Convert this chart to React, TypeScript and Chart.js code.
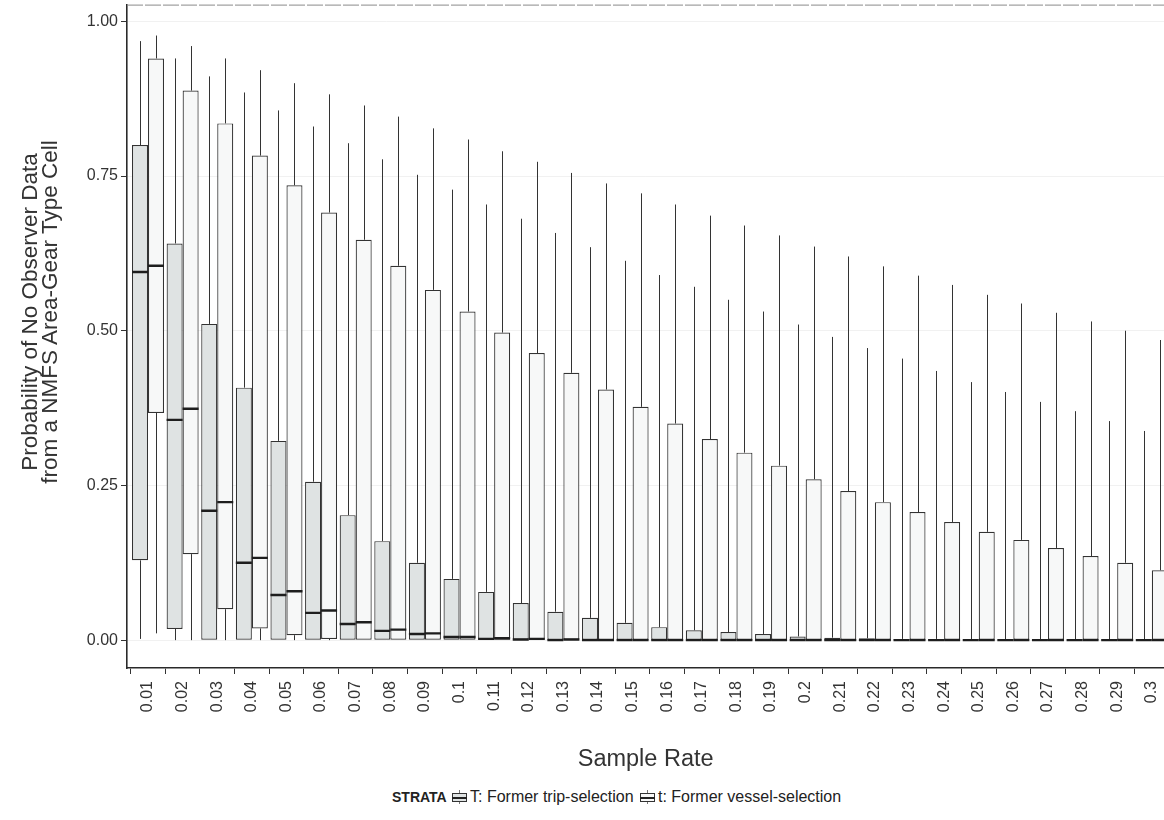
import React, { useEffect, useRef } from 'react';
import { Chart, registerables } from 'chart.js';
Chart.register(...registerables);

const FONT = "'Liberation Sans', Arial, Helvetica, sans-serif";

const rates = ['0.01','0.02','0.03','0.04','0.05','0.06','0.07','0.08','0.09','0.1','0.11','0.12','0.13','0.14','0.15','0.16','0.17','0.18','0.19','0.2','0.21','0.22','0.23','0.24','0.25','0.26','0.27','0.28','0.29','0.3'];
const yTicks = [0, 0.25, 0.5, 0.75, 1];

// T: Former trip-selection
const whiskerHighT = [0.968,0.94,0.911,0.885,0.856,0.83,0.803,0.777,0.752,0.728,0.704,0.681,0.658,0.635,0.613,0.59,0.571,0.55,0.531,0.51,0.49,0.472,0.455,0.435,0.417,0.401,0.385,0.37,0.354,0.338];
const boxHighT = [0.80,0.641,0.511,0.408,0.322,0.256,0.202,0.16,0.125,0.099,0.078,0.06,0.046,0.036,0.028,0.021,0.016,0.013,0.01,0.006,0.004,0.003,0.002,0.002,0.001,0.001,0.001,0.001,0.001,0.001];
const medianT = [0.595,0.356,0.209,0.125,0.073,0.044,0.026,0.015,0.01,0.005,0.002,0.001,0,0,0,0,0,0,0,0,0,0,0,0,0,0,0,0,0,0];
const boxLowT = [0.129,0.018,0,0,0,0,0,0,0,0,0,0,0,0,0,0,0,0,0,0,0,0,0,0,0,0,0,0,0,0];
const whiskerLowT = [0.002,0,0,0,0,0,0,0,0,0,0,0,0,0,0,0,0,0,0,0,0,0,0,0,0,0,0,0,0,0];

// t: Former vessel-selection
const whiskerHighV = [0.977,0.96,0.94,0.921,0.9,0.882,0.864,0.846,0.827,0.809,0.79,0.773,0.755,0.738,0.722,0.704,0.686,0.67,0.654,0.636,0.62,0.604,0.589,0.574,0.558,0.544,0.529,0.515,0.5,0.485];
const boxHighV = [0.94,0.888,0.835,0.783,0.735,0.691,0.647,0.605,0.566,0.531,0.497,0.464,0.432,0.405,0.377,0.35,0.325,0.303,0.282,0.26,0.241,0.223,0.207,0.191,0.175,0.162,0.149,0.136,0.125,0.113];
const medianV = [0.605,0.374,0.223,0.133,0.079,0.048,0.029,0.017,0.011,0.005,0.003,0.002,0.001,0,0,0,0,0,0,0,0,0,0,0,0,0,0,0,0,0];
const boxLowV = [0.367,0.139,0.05,0.019,0.008,0.002,0,0,0,0,0,0,0,0,0,0,0,0,0,0,0,0,0,0,0,0,0,0,0,0];
const whiskerLowV = [0.011,0,0,0,0,0,0,0,0,0,0,0,0,0,0,0,0,0,0,0,0,0,0,0,0,0,0,0,0,0];

const seriesLabels = ['T: Former trip-selection', 't: Former vessel-selection'];
const fills = ['#dfe3e3', '#f7f8f8'];
const yTitle = ['Probability of No Observer Data', 'from a NMFS Area-Gear Type Cell'];
const legendTitle = 'STRATA';

const W = 1164;
const CANVAS_W = 1178;   // Chart.js keeps ~14px right inset for the last tick label; the page crops it
const AREA_TOP = 5;      // page y of plot top
const TOP_INSET = 13;    // Chart.js inset above the plot (half a tick label)
const AREA_BOTTOM = 668; // page y of plot bottom
const X_AXIS_H = 117;
const CANVAS_H = AREA_BOTTOM + (TOP_INSET - AREA_TOP) + X_AXIS_H;

function LegendIcon({ fill, left }: { fill: string; left: number }) {
  return (
    <span style={{ position: 'absolute', left, top: 790, width: 15, height: 14 }}>
      <span style={{ position: 'absolute', left: 7, top: 0, width: 1, height: 14, background: '#777' }} />
      <span style={{ position: 'absolute', left: 0, top: 3, width: 13, height: 7, border: '1px solid #333', background: fill }} />
      <span style={{ position: 'absolute', left: 0, top: 7, width: 15, height: 1.5, background: '#222' }} />
    </span>
  );
}

export default function App() {
  const ref = useRef<HTMLCanvasElement>(null);
  useEffect(() => {
    document.body.style.margin = '0';
    const canvas = ref.current!;
    const sets = [
      { hi: whiskerHighT, lo: whiskerLowT, bh: boxHighT, bl: boxLowT, med: medianT },
      { hi: whiskerHighV, lo: whiskerLowV, bh: boxHighV, bl: boxLowV, med: medianV },
    ];
    const boxParts = {
      id: 'boxParts',
      afterDatasetsDraw(chart: any) {
        const c = chart.ctx;
        const y = chart.scales.y;
        const a = chart.chartArea;
        c.save();
        c.beginPath();
        c.rect(a.left, a.top, a.right - a.left, a.bottom - a.top);
        c.clip();
        sets.forEach((s, d) => {
          const meta = chart.getDatasetMeta(d);
          meta.data.forEach((bar: any, i: number) => {
            const p = bar.getProps(['x', 'width'], true);
            const xx = Math.round(p.x) + 0.5;
            c.strokeStyle = '#333333';
            c.lineWidth = 1;
            c.beginPath();
            c.moveTo(xx, y.getPixelForValue(s.bh[i]));
            c.lineTo(xx, y.getPixelForValue(s.hi[i]));
            if (s.lo[i] < s.bl[i]) {
              c.moveTo(xx, y.getPixelForValue(s.bl[i]));
              c.lineTo(xx, y.getPixelForValue(s.lo[i]));
            }
            c.stroke();
            c.strokeStyle = '#1e1e1e';
            c.lineWidth = 2.4;
            const ym = y.getPixelForValue(s.med[i]);
            c.beginPath();
            c.moveTo(p.x - p.width / 2, ym);
            c.lineTo(p.x + p.width / 2, ym);
            c.stroke();
          });
        });
        c.restore();
      },
    };
    const frame = {
      id: 'frame',
      afterDraw(chart: any) {
        const c = chart.ctx;
        const a = chart.chartArea;
        c.save();
        c.strokeStyle = '#8a8a8a';
        c.lineWidth = 1;
        c.setLineDash([16, 2]);
        c.beginPath();
        c.moveTo(a.left, a.top + 0.5);
        c.lineTo(a.right, a.top + 0.5);
        c.stroke();
        c.restore();
      },
    };
    const chart = new Chart(canvas, {
      type: 'bar',
      data: {
        datasets: [0, 1].map((d) => ({
          label: seriesLabels[d],
          data: rates.map((_, i) => ({ x: i, y: [sets[d].bl[i], sets[d].bh[i]] })),
          backgroundColor: fills[d],
          borderColor: '#333333',
          borderWidth: 1.2,
          borderSkipped: false,
          categoryPercentage: 0.925,
          barPercentage: 1,
        })),
      },
      options: {
        responsive: false,
        animation: false,
        layout: { padding: { top: 0, left: 0, right: 0, bottom: 0 } },
        plugins: { legend: { display: false }, tooltip: { enabled: false } },
        scales: {
          x: {
            type: 'linear',
            min: -0.607,
            max: 29.36,
            offset: false,
            afterFit: (s: any) => { s.height = X_AXIS_H; },
            afterBuildTicks: (s: any) => { s.ticks = rates.map((_, i) => ({ value: i })); },
            ticks: {
              autoSkip: false,
              minRotation: 90,
              maxRotation: 90,
              padding: 7,
              color: '#333',
              font: { family: FONT, size: 16 },
              callback: (v: any) => rates[Math.round(Number(v))] ?? '',
            },
            grid: { drawOnChartArea: false, tickLength: 6, tickColor: '#333', color: '#333' },
            border: { display: true, color: '#2a2a2a', width: 1.6 },
            title: {
              display: true,
              text: 'Sample Rate',
              color: '#333',
              font: { family: FONT, size: 23.5 },
              padding: { top: 0, bottom: 11 },
            },
          },
          y: {
            min: -0.045,
            max: 1.027,
            afterFit: (s: any) => { s.width = 127; },
            afterBuildTicks: (s: any) => { s.ticks = yTicks.map((v) => ({ value: v })); },
            ticks: {
              color: '#333',
              font: { family: FONT, size: 16 },
              padding: 3,
              callback: (v: any) => Number(v).toFixed(2),
            },
            grid: { color: '#f1f1f1', tickLength: 6, tickColor: '#333', lineWidth: 1 },
            border: { display: true, color: '#2a2a2a', width: 1.6 },
            title: { display: false },
          },
        },
      },
      plugins: [boxParts, frame],
    } as any);
    // align the plot area with its page position
    canvas.style.marginTop = (AREA_TOP - chart.chartArea.top) + 'px';
    return () => chart.destroy();
  }, []);

  return (
    <div style={{ position: 'absolute', left: 0, top: 0, width: W, height: 820, background: '#fff', overflow: 'hidden' }}>
      <canvas ref={ref} width={CANVAS_W} height={CANVAS_H} style={{ display: 'block' }} />
      <div
        style={{
          position: 'absolute', left: 40, top: 312, width: 420,
          transform: 'translate(-50%, -50%) rotate(-90deg)',
          textAlign: 'center', fontFamily: FONT, fontSize: 22.5, lineHeight: '20px', color: '#333', whiteSpace: 'nowrap',
        }}
      >
        <div>{yTitle[0]}</div>
        <div>{yTitle[1]}</div>
      </div>
      <div style={{ fontFamily: FONT, color: '#222', whiteSpace: 'nowrap' }}>
        <span style={{ position: 'absolute', left: 392, top: 788, fontSize: 14, fontWeight: 'bold', lineHeight: '18px' }}>{legendTitle}</span>
        <LegendIcon fill={fills[0]} left={452} />
        <span style={{ position: 'absolute', left: 470, top: 787, fontSize: 16, lineHeight: '19px' }}>{seriesLabels[0]}</span>
        <LegendIcon fill={fills[1]} left={640} />
        <span style={{ position: 'absolute', left: 658, top: 787, fontSize: 16, lineHeight: '19px' }}>{seriesLabels[1]}</span>
      </div>
    </div>
  );
}
